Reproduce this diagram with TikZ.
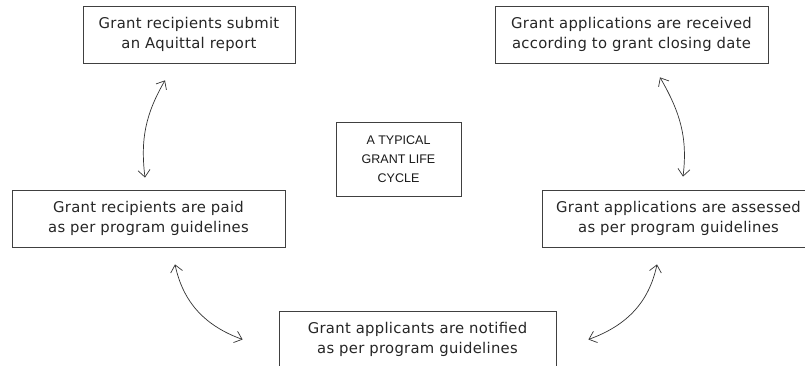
\documentclass[tikz,border=0pt]{standalone}
\usepackage{fontspec}
\setmainfont{DejaVu Sans}[LetterSpace=2]
\newfontfamily\titlefont{Liberation Sans}
\usetikzlibrary{arrows.meta}
\tikzset{
  stagebox/.style={draw=black!75, line width=0.8pt, minimum height=57pt, align=center, inner sep=0pt,
    font=\fontsize{14.8}{19.5}\selectfont, text=black!85},
  titlebox/.style={draw=black!75, line width=0.8pt, minimum width=125pt, minimum height=74pt, align=center,
    inner sep=0pt, font=\titlefont\fontsize{12.5}{19}\selectfont, text=black!90},
  cyc/.style={draw=black!80, line width=0.7pt, {Straight Barb[length=7pt,width=12pt]}-{Straight Barb[length=7pt,width=12pt]}}
}
\begin{document}
\begin{tikzpicture}[x=1pt,y=1pt]
\clip (0,0) rectangle (805,366);
\fill[white] (0,0) rectangle (805,366);
\node[stagebox, minimum width=212pt] (tl) at (189,331.5) {Grant recipients submit\\an Aquittal report};
\node[stagebox, minimum width=273pt] (tr) at (631.5,331.5) {Grant applications are received\\according to grant closing date};
\node[titlebox] (mid) at (398.5,207) {A TYPICAL\\GRANT LIFE\\CYCLE};
\node[stagebox, minimum width=273pt] (lm) at (148.5,147.5) {Grant recipients are paid\\as per program guidelines};
\node[stagebox, minimum width=273pt] (rm) at (678.5,147.5) {Grant applications are assessed\\as per program guidelines};
\node[stagebox, minimum width=277pt] (bt) at (417.5,26.5) {Grant applicants are notified\\as per program guidelines};
% connector ends
\coordinate (a1s) at ([shift={(-24pt,-17pt)}]tl.south);
\coordinate (a1e) at ([shift={(-3.5pt,12pt)}]lm.north);
\coordinate (a2s) at ([shift={(28.5pt,-14pt)}]tr.south);
\coordinate (a2e) at ([shift={(4.5pt,13pt)}]rm.north);
\coordinate (a3s) at ([shift={(26.5pt,-17pt)}]lm.south);
\coordinate (a3e) at ([shift={(-36pt,0pt)}]bt.west);
\coordinate (a4s) at ([shift={(-21.5pt,-17pt)}]rm.south);
\coordinate (a4e) at ([shift={(32pt,0pt)}]bt.east);
\draw[cyc] (a1s) to[out=240, in=97] (a1e);
\draw[cyc] (a2s) to[out=300, in=83] (a2e);
\draw[cyc] (a3s) to[out=282, in=160] (a3e);
\draw[cyc] (a4s) to[out=258, in=20] (a4e);
\end{tikzpicture}
\end{document}
